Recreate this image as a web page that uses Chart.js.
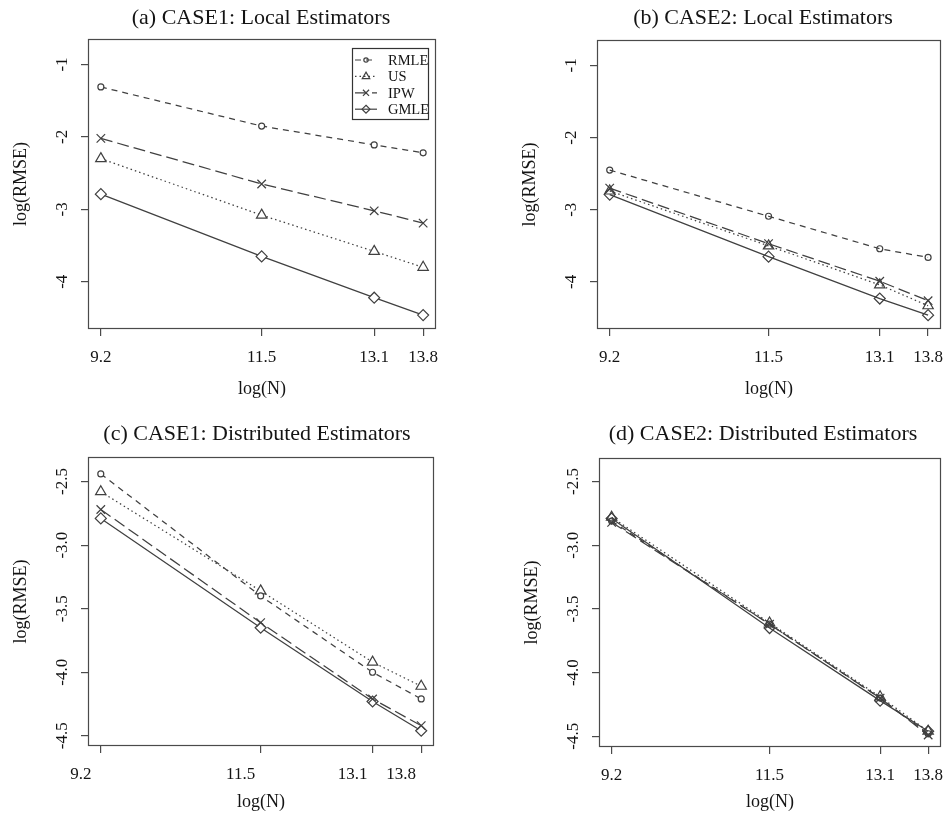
<!DOCTYPE html>
<html>
<head>
<meta charset="utf-8">
<script src="https://cdn.jsdelivr.net/npm/chart.js@4.4.1/dist/chart.umd.min.js"></script>
<style>
  body { margin: 0; background: #fff; width: 948px; height: 826px; overflow: hidden; position: relative; }
  canvas { position: absolute; }
</style>
</head>
<body>
<canvas id="pa" width="474" height="413" style="left:0;top:0"></canvas>
<canvas id="pb" width="474" height="413" style="left:474px;top:0"></canvas>
<canvas id="pc" width="474" height="413" style="left:0;top:413px"></canvas>
<canvas id="pd" width="474" height="413" style="left:474px;top:413px"></canvas>
<script>
// x = log(N), N = 1e4, 1e5, 5e5, 1e6
const logN = [9.21, 11.51, 13.12, 13.82];
const xLabels = ['9.2', '11.5', '13.1', '13.8'];
const names = ['RMLE', 'US', 'IPW', 'GMLE'];

const yTicksLocal = [-1, -2, -3, -4];
const yLabelsLocal = ['-1', '-2', '-3', '-4'];
const yTicksDist = [-2.5, -3, -3.5, -4, -4.5];
const yLabelsDist = ['-2.5', '-3.0', '-3.5', '-4.0', '-4.5'];

// (a) case 1, local
const rmleA = [-1.31, -1.85, -2.11, -2.22];
const usA   = [-2.30, -3.08, -3.58, -3.80];
const ipwA  = [-2.02, -2.65, -3.02, -3.19];
const gmleA = [-2.79, -3.65, -4.22, -4.46];
// (b) case 2, local
const rmleB = [-2.45, -3.09, -3.54, -3.66];
const usB   = [-2.74, -3.50, -4.04, -4.33];
const ipwB  = [-2.70, -3.47, -3.99, -4.26];
const gmleB = [-2.79, -3.65, -4.23, -4.46];
// (c) case 1, distributed
const rmleC = [-2.44, -3.40, -4.00, -4.21];
const usC   = [-2.58, -3.36, -3.92, -4.11];
const ipwC  = [-2.72, -3.61, -4.21, -4.42];
const gmleC = [-2.79, -3.65, -4.23, -4.46];
// (d) case 2, distributed
const rmleD = [-2.81, -3.62, -4.20, -4.48];
const usD   = [-2.78, -3.61, -4.19, -4.46];
const ipwD  = [-2.82, -3.62, -4.20, -4.49];
const gmleD = [-2.79, -3.65, -4.22, -4.46];

const serif = "'Liberation Serif', 'DejaVu Serif', serif";
const ink = '#404040';
const frame = '#4a4a4a';
const looks = [
  { dash: [6, 5], point: 'circle', r: 3 },
  { dash: [1.5, 3], point: 'triangle', r: 6 },
  { dash: [12, 5], point: 'crossRot', r: 6 },
  { dash: [], point: 'rectRot', r: 5.5 }
];

function marker(ctx, style, x, y, r) {
  ctx.beginPath();
  if (style === 'circle') {
    ctx.arc(x, y, r, 0, Math.PI * 2);
  } else if (style === 'triangle') {
    for (let k = 0; k < 3; k++) {
      const a = k * 2 * Math.PI / 3;
      const px = x + Math.sin(a) * r, py = y - Math.cos(a) * r;
      k ? ctx.lineTo(px, py) : ctx.moveTo(px, py);
    }
    ctx.closePath();
  } else if (style === 'crossRot') {
    const d = r * Math.SQRT1_2;
    ctx.moveTo(x - d, y - d); ctx.lineTo(x + d, y + d);
    ctx.moveTo(x - d, y + d); ctx.lineTo(x + d, y - d);
  } else {
    ctx.moveTo(x, y - r); ctx.lineTo(x + r, y); ctx.lineTo(x, y + r); ctx.lineTo(x - r, y); ctx.closePath();
  }
  ctx.stroke();
}

const deco = {
  id: 'deco',
  afterDraw(chart, args, o) {
    const { ctx, chartArea: a, scales } = chart;
    ctx.save();
    // plot box
    ctx.strokeStyle = frame;
    ctx.lineWidth = 1.2;
    ctx.setLineDash([]);
    ctx.strokeRect(Math.round(a.left) + 0.5, Math.round(a.top) + 0.5,
      Math.round(a.right - a.left) - 1, Math.round(a.bottom - a.top) - 1);

    ctx.fillStyle = '#141414';
    ctx.textAlign = 'center';
    ctx.textBaseline = 'middle';
    // main title
    ctx.font = '22px ' + serif;
    ctx.fillText(o.title, o.titleX, o.titleY);
    // x axis title
    ctx.font = '18px ' + serif;
    ctx.fillText('log(N)', (a.left + a.right) / 2, 389);
    // y axis title
    ctx.save();
    ctx.translate(a.left - 67, (a.top + a.bottom) / 2);
    ctx.rotate(-Math.PI / 2);
    ctx.fillText('log(RMSE)', 0, 0);
    ctx.restore();
    // y tick labels, parallel to the axis
    ctx.font = '17px ' + serif;
    o.yTicks.forEach((v, i) => {
      ctx.save();
      ctx.translate(a.left - 25.5, scales.y.getPixelForValue(v));
      ctx.rotate(-Math.PI / 2);
      ctx.fillText(o.yLabels[i], 0, 0);
      ctx.restore();
    });
    // legend
    if (o.legend) {
      const L = 352, T = 48, R = 428, B = 119;
      ctx.strokeStyle = '#333';
      ctx.lineWidth = 1.2;
      ctx.strokeRect(L + 0.5, T + 0.5, R - L, B - T);
      ctx.font = '14.5px ' + serif;
      ctx.textAlign = 'left';
      chart.data.datasets.forEach((ds, i) => {
        const yy = 60 + i * 16.4;
        ctx.strokeStyle = ink;
        ctx.lineWidth = 1.2;
        ctx.setLineDash(looks[i].dash);
        ctx.beginPath();
        ctx.moveTo(355, yy); ctx.lineTo(377, yy);
        ctx.stroke();
        ctx.setLineDash([]);
        ctx.fillStyle = '#fff';
        marker(ctx, looks[i].point, 366, yy, looks[i].r * 0.72);
        ctx.fillStyle = '#141414';
        ctx.fillText(names[i], 388, yy + 1);
      });
    }
    ctx.restore();
  }
};

function panel(id, series, p) {
  const datasets = series.map((vals, i) => ({
    label: names[i],
    data: logN.map((x, k) => ({ x: x, y: vals[k] })),
    borderColor: ink,
    borderWidth: 1.25,
    borderDash: looks[i].dash,
    pointStyle: looks[i].point,
    pointRadius: looks[i].r,
    pointBorderWidth: 1.2,
    pointBorderColor: ink,
    pointBackgroundColor: p.fill,
    tension: 0,
    fill: false
  }));
  return new Chart(document.getElementById(id), {
    type: 'line',
    data: { datasets: datasets },
    plugins: [deco],
    options: {
      responsive: false,
      animation: false,
      events: [],
      layout: { padding: { left: 0, top: p.box.t, right: 474 - p.box.r, bottom: 0 } },
      plugins: {
        legend: { display: false },
        title: { display: false },
        tooltip: { enabled: false },
        deco: p
      },
      scales: {
        x: {
          type: 'linear',
          min: 9.026, max: 14.004,
          afterBuildTicks: s => { s.ticks = logN.map(v => ({ value: v })); },
          afterFit: s => { s.height = 413 - p.box.b; s.paddingLeft = 0; s.paddingRight = 0; },
          ticks: {
            autoSkip: false, maxRotation: 0, minRotation: 0,
            padding: 11,
            labelOffset: p.labelOffset,
            color: '#141414',
            font: { family: serif, size: 17 },
            callback: (v, i) => xLabels[i]
          },
          grid: { drawOnChartArea: false, drawTicks: true, tickLength: 7, color: frame, lineWidth: 1.2 },
          border: { display: false }
        },
        y: {
          type: 'linear',
          min: p.yMin, max: p.yMax,
          afterBuildTicks: s => { s.ticks = p.yTicks.map(v => ({ value: v })); },
          afterFit: s => { s.width = p.box.l; s.paddingTop = 0; s.paddingBottom = 0; },
          ticks: { display: false },
          grid: { drawOnChartArea: false, drawTicks: true, tickLength: 7, color: frame, lineWidth: 1.2 },
          border: { display: false }
        }
      }
    }
  });
}

panel('pa', [rmleA, usA, ipwA, gmleA], {
  box: { l: 88, t: 39, r: 436, b: 329 }, yMin: -4.652, yMax: -0.648,
  yTicks: yTicksLocal, yLabels: yLabelsLocal,
  title: '(a) CASE1: Local Estimators', titleX: 261, titleY: 18,
  labelOffset: 0, fill: '#fff', legend: true
});
panel('pb', [rmleB, usB, ipwB, gmleB], {
  box: { l: 123, t: 40, r: 470, b: 329 }, yMin: -4.652, yMax: -0.648,
  yTicks: yTicksLocal, yLabels: yLabelsLocal,
  title: '(b) CASE2: Local Estimators', titleX: 289, titleY: 18,
  labelOffset: 0, fill: 'rgba(255,255,255,0)', legend: false
});
panel('pc', [rmleC, usC, ipwC, gmleC], {
  box: { l: 88, t: 44, r: 434, b: 333 }, yMin: -4.58, yMax: -2.307,
  yTicks: yTicksDist, yLabels: yLabelsDist,
  title: '(c) CASE1: Distributed Estimators', titleX: 257, titleY: 21,
  labelOffset: -20, fill: '#fff', legend: false
});
panel('pd', [rmleD, usD, ipwD, gmleD], {
  box: { l: 125, t: 45, r: 472, b: 334 }, yMin: -4.584, yMax: -2.315,
  yTicks: yTicksDist, yLabels: yLabelsDist,
  title: '(d) CASE2: Distributed Estimators', titleX: 289, titleY: 21,
  labelOffset: 0, fill: 'rgba(255,255,255,0)', legend: false
});
</script>
</body>
</html>
